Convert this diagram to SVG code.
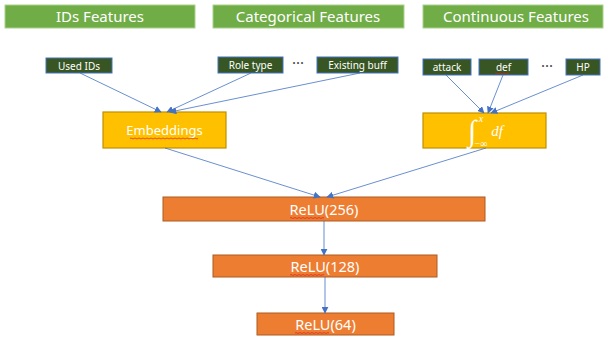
<svg xmlns="http://www.w3.org/2000/svg" width="612" height="339" viewBox="0 0 612 339">
<defs>
<style>
.hdr{fill:#70AD47;stroke:#A9D18E;stroke-width:1}
.feat{fill:#375623;stroke:#4472C4;stroke-width:1}
.gold{fill:#FFC000;stroke:#BF9000;stroke-width:1.2}
.orng{fill:#ED7D31;stroke:#AE5A21;stroke-width:1}
text{font-family:"Noto Sans","Open Sans","DejaVu Sans",sans-serif;fill:#fff;text-anchor:middle}
.th{font-size:15px}
.tf{font-size:10px}
.tm{font-size:13px}
.tr{font-size:14.5px}
.dots{fill:#444;font-size:15px}
.conn line{stroke:#4472C4;stroke-width:0.8;marker-end:url(#ah)}
.sq{fill:none;stroke:#E02020;stroke-width:0.7}
.math{font-family:"Liberation Serif","DejaVu Serif",serif;font-style:italic}
</style>
<marker id="ah" viewBox="0 0 10 10" refX="9" refY="5" markerWidth="7" markerHeight="7" markerUnits="userSpaceOnUse" orient="auto">
<path d="M0,0 L10,5 L0,10 z" fill="#4472C4"/>
</marker>
</defs>
<rect width="612" height="339" fill="#fff"/>
<g id="hdr-ids"><rect class="hdr" x="5" y="5" width="190" height="23"/><text class="th" x="100" y="22">IDs Features</text></g>
<g id="hdr-cat"><rect class="hdr" x="213" y="5" width="191" height="23"/><text class="th" x="308" y="22">Categorical Features</text></g>
<g id="hdr-cont"><rect class="hdr" x="423" y="5" width="180" height="23"/><text class="th" x="516" y="22">Continuous Features</text></g>

<g id="f-used"><rect class="feat" x="46" y="58" width="66" height="15"/><text class="tf" x="79" y="69.5">Used IDs</text></g>
<g id="f-role"><rect class="feat" x="218" y="57" width="65" height="16"/><text class="tf" x="250.5" y="69">Role type</text></g>
<text class="dots" x="298" y="68">···</text>
<g id="f-buff"><rect class="feat" x="317" y="57" width="81" height="16"/><text class="tf" x="357.5" y="69">Existing buff</text></g>
<g id="f-attack"><rect class="feat" x="423" y="59" width="48" height="16"/><text class="tf" x="447" y="71">attack</text></g>
<g id="f-def"><rect class="feat" x="479" y="59" width="49" height="16"/><text class="tf" x="503.5" y="71">def</text><path class="sq" d="M495,73.5 q1,-1 2,0 t2,0 t2,0 t2,0 t2,0 t2,0 t2,0"/></g>
<text class="dots" x="547" y="71">···</text>
<g id="f-hp"><rect class="feat" x="566" y="59" width="34" height="16"/><text class="tf" x="583" y="71">HP</text></g>

<g id="emb"><rect class="gold" x="103" y="112" width="123" height="36"/><text class="tm" x="164.5" y="135">Embeddings</text><path class="sq" d="M130,138.5 q1,-1 2,0 t2,0 t2,0 t2,0 t2,0 t2,0 t2,0 t2,0 t2,0 t2,0 t2,0 t2,0 t2,0 t2,0 t2,0 t2,0 t2,0 t2,0 t2,0 t2,0 t2,0 t2,0 t2,0 t2,0 t2,0 t2,0 t2,0 t2,0 t2,0 t2,0 t2,0 t2,0 t2,0 t2,0"/></g>
<g id="integ"><rect class="gold" x="423" y="113" width="123" height="35"/>
<text x="472" y="141" class="math" style="font-style:normal;font-size:30px">∫</text>
<text x="481" y="122" class="math" style="font-size:10px">x</text>
<text x="481" y="146.5" class="math" style="font-style:normal;font-size:10px">−∞</text>
<text x="497" y="136" class="math" style="font-size:15px">df</text></g>

<g id="relu256"><rect class="orng" x="163" y="197" width="322" height="24"/><text class="tr" x="324" y="214.5">ReLU(256)</text><path class="sq" d="M290,218 q1,-1 2,0 t2,0 t2,0 t2,0 t2,0 t2,0 t2,0 t2,0 t2,0 t2,0 t2,0 t2,0 t2,0 t2,0 t2,0 t2,0 t2,0"/></g>
<g id="relu128"><rect class="orng" x="213" y="255" width="224" height="22"/><text class="tr" x="325" y="271.5">ReLU(128)</text><path class="sq" d="M290,275 q1,-1 2,0 t2,0 t2,0 t2,0 t2,0 t2,0 t2,0 t2,0 t2,0 t2,0 t2,0 t2,0 t2,0 t2,0 t2,0 t2,0 t2,0"/></g>
<g id="relu64"><rect class="orng" x="257" y="313" width="137" height="22"/><text class="tr" x="325.5" y="329.5">ReLU(64)</text><path class="sq" d="M295,333 q1,-1 2,0 t2,0 t2,0 t2,0 t2,0 t2,0 t2,0 t2,0 t2,0 t2,0 t2,0 t2,0 t2,0 t2,0 t2,0 t2,0 t2,0"/></g>

<g id="connectors" class="conn">
<line x1="80" y1="73" x2="161" y2="112"/>
<line x1="251" y1="73" x2="167" y2="112"/>
<line x1="360" y1="73" x2="170" y2="112"/>
<line x1="446" y1="75" x2="484" y2="113"/>
<line x1="503" y1="75" x2="488" y2="113"/>
<line x1="583" y1="75" x2="491" y2="113"/>
<line x1="165" y1="148" x2="320" y2="197"/>
<line x1="486" y1="148" x2="327" y2="197"/>
<line x1="324" y1="221" x2="324" y2="255"/>
<line x1="325" y1="277" x2="325" y2="313"/>
</g>
</svg>
